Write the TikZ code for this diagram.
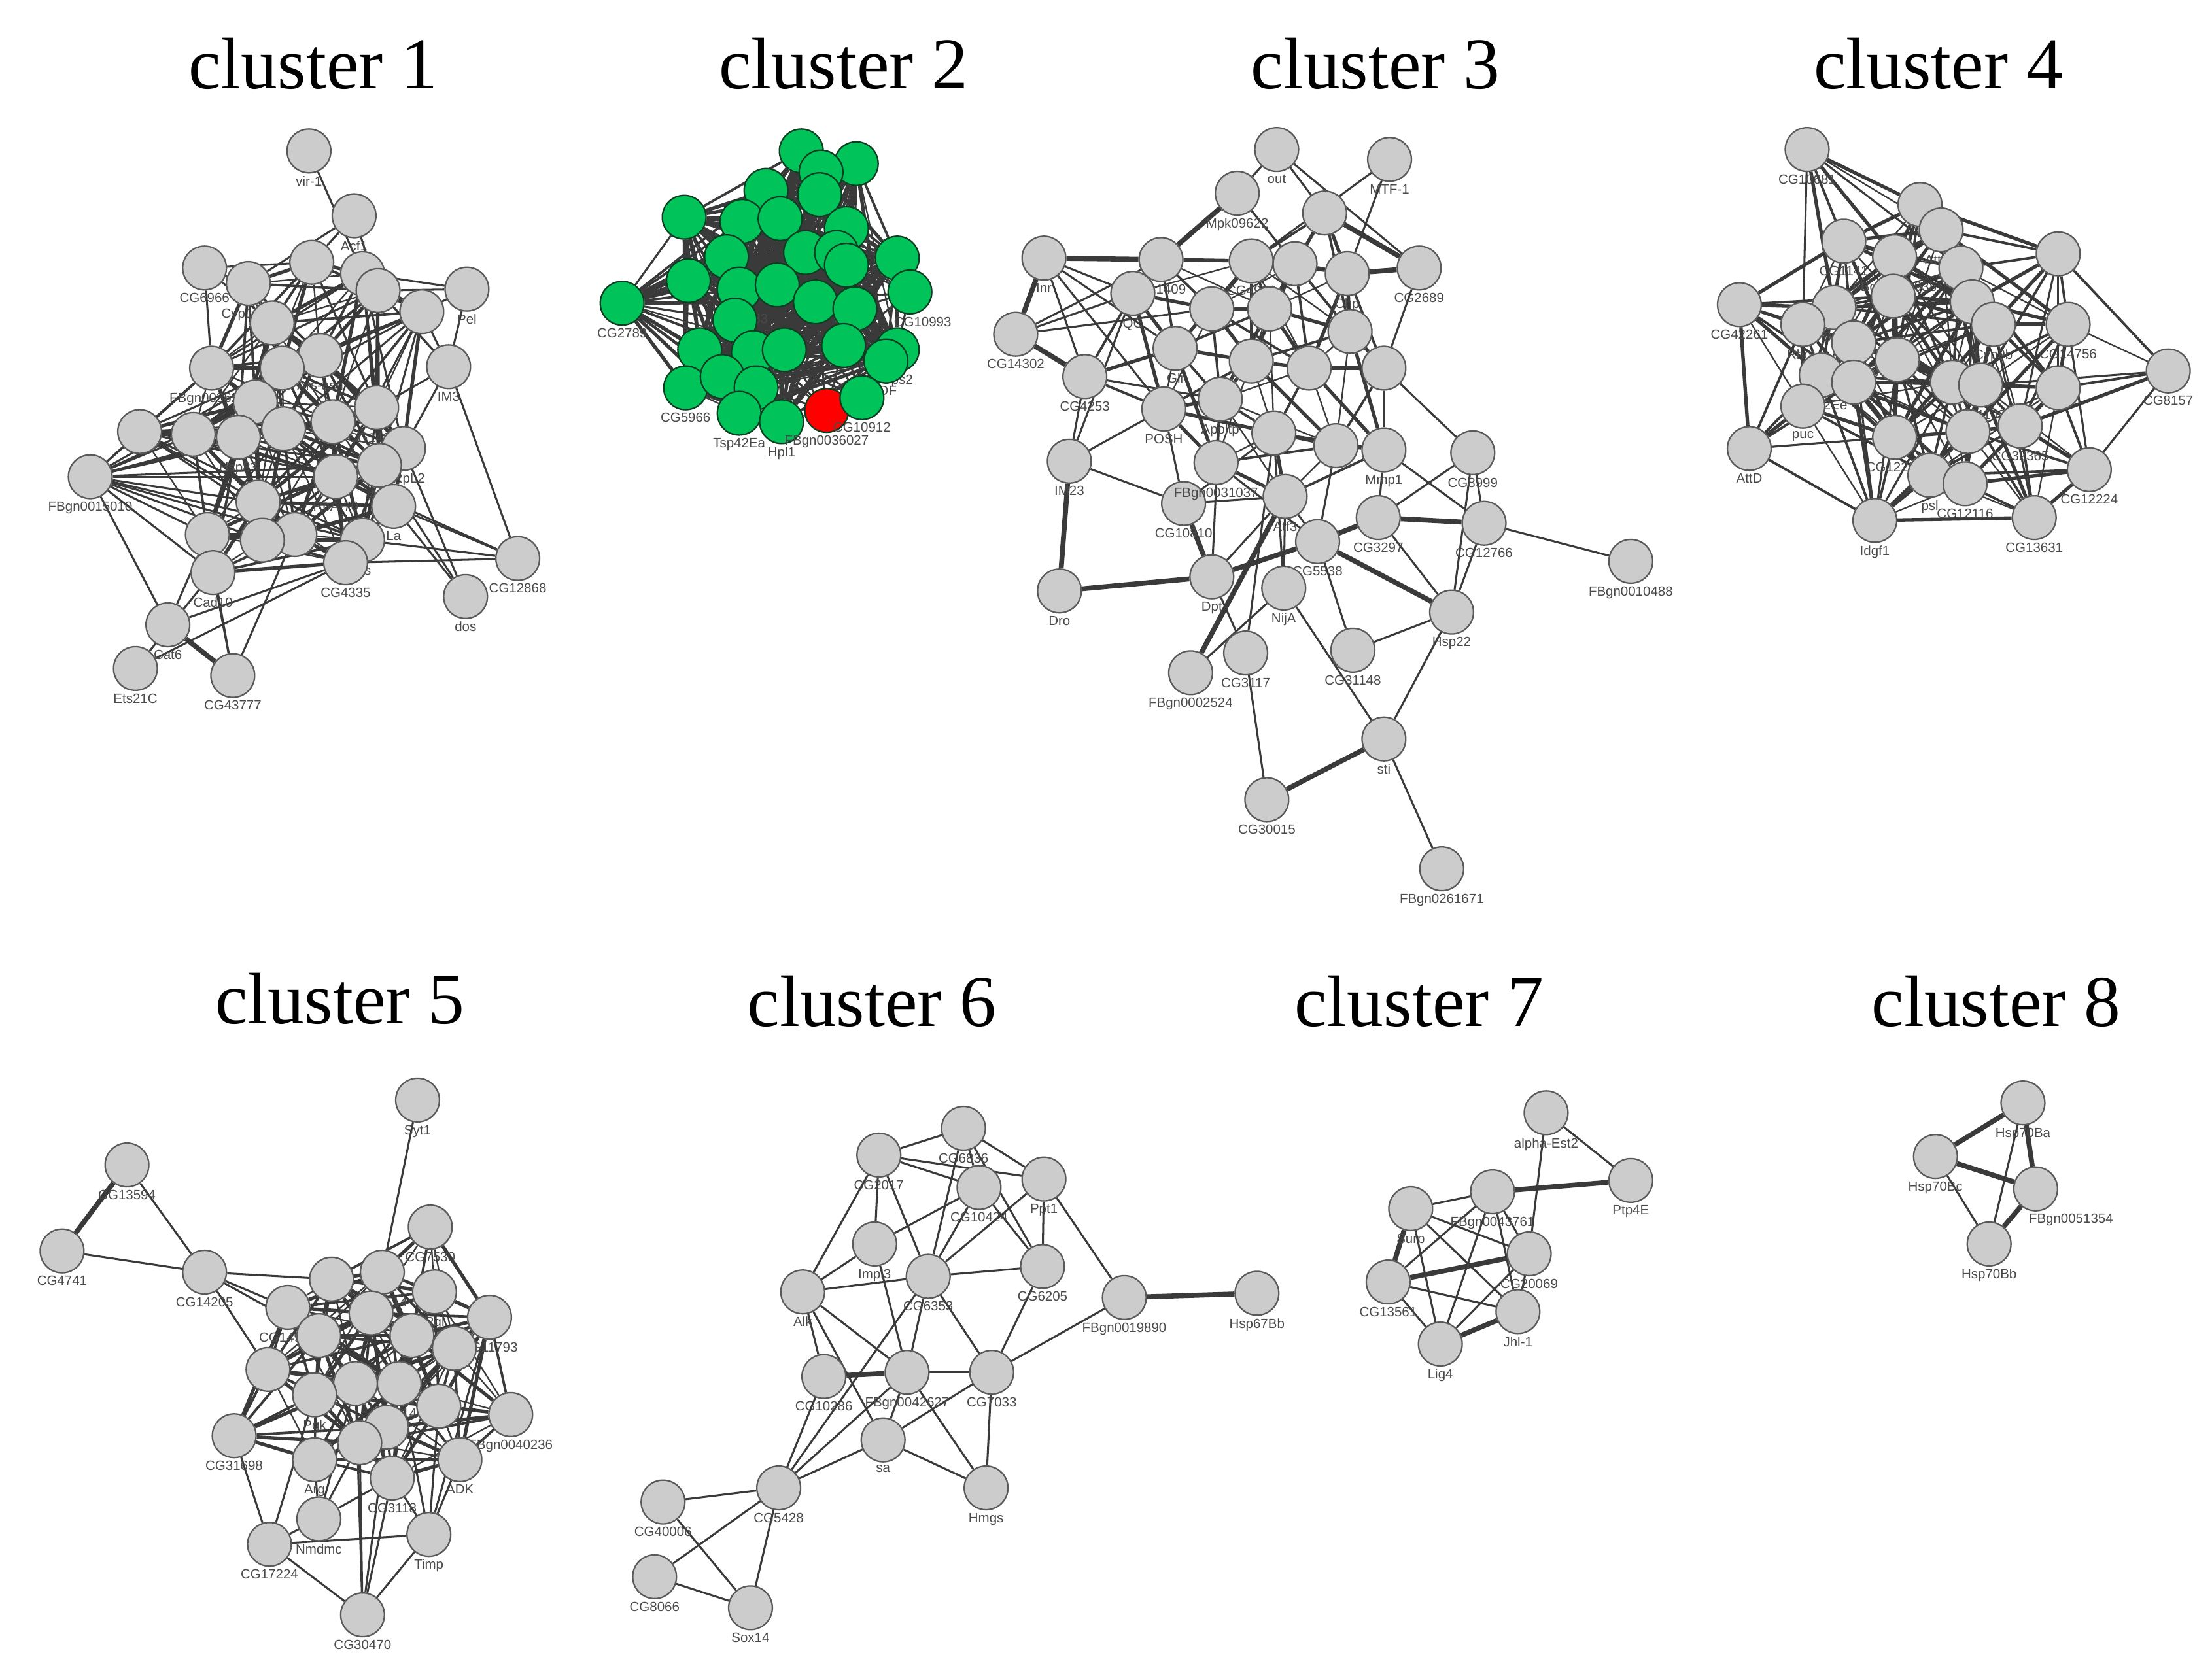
\documentclass[tikz,border=0pt]{standalone}
\usepackage{fontspec}
\setmainfont{Liberation Serif}
\newfontfamily\lblfont{Liberation Sans}
\usepackage{xcolor}
\definecolor{nodegray}{HTML}{CCCCCC}
\definecolor{rimgray}{HTML}{5A5A5A}
\definecolor{netgreen}{HTML}{00C45A}
\definecolor{rimgreen}{HTML}{0D3D22}
\definecolor{netred}{HTML}{FF0000}
\definecolor{labelgray}{HTML}{4A4A4A}
\definecolor{edgegray}{HTML}{3A3A3A}
\usepackage{tikz}
\usetikzlibrary{backgrounds}
\tikzset{
  gn/.style ={circle, fill=nodegray, draw=rimgray, line width=0.3pt, minimum size=0.31cm, inner sep=0pt},
  gg/.style ={gn, fill=netgreen, draw=rimgreen},
  gr/.style ={gn, fill=netred, draw=rimgreen},
  lbl/.style={font=\lblfont\fontsize{2.7}{3}\selectfont, text=labelgray, inner sep=0.3pt},
  ttl/.style={font=\fontsize{14.7}{17}\selectfont, inner sep=0pt},
  ed/.style ={draw=edgegray, line width=0.4pt},
  edk/.style={draw=edgegray, line width=1pt},
}
% place a list of genes: name/x/y/label
\newcommand{\genes}[2]{\foreach \nm/\px/\py/\lab in #2 {\node[#1, label=below:{\lab}] (\nm) at (\px,\py) {};}}
% join every pair closer than sqrt(#2)*100
\newcommand{\linknear}[2]{%
  \foreach \p/\ax/\ay/\at [count=\ii] in #1 {%
    \foreach \q/\bx/\by/\bt [count=\jj] in #1 {%
      \ifnum\jj>\ii
        \pgfmathtruncatemacro{\near}{((\ax-\bx)/100)^2+((\ay-\by)/100)^2<#2}%
        \ifnum\near=1
          \pgfmathsetmacro{\lw}{0.3+0.2*mod(\ii+2*\jj,3)}%
          \draw[ed, line width=\lw pt] (\p) -- (\q);
        \fi
      \fi}}}
\newcommand{\links}[2]{\foreach \p/\q in {#2} {\draw[#1] (\p) -- (\q);}}

% cluster 1
\newcommand{\clAcore}{a1/221/186/{}, a2/257/194/{}, a3/268/206/{}, a4/299/221/{}, a25/176/201/{Cyp18a1},
  a5/193/229/{}, a6/227/252/{Ars-asn}, a7/200/261/{}, a8/150/261/{FBgn0036262}, a9/181/285/{},
  a26/99/306/{}, a10/137/308/{}, a11/169/310/{Hsp83}, a12/201/304/{}, a13/236/299/{},
  a14/267/289/{CG14260}, a15/286/318/{mRpL2}, a16/269/330/{Apr}, a17/238/338/{RpA-70},
  a18/183/356/{F}, a19/279/359/{La}, a20/209/379/{}, a21/147/379/{}, a27/186/383/{},
  a22/257/383/{his}, a23/245/399/{CG4335}, a24/151/406/{Cad10}}
\newcommand{\clAout}{b1/219/107/{vir-1}, b2/251/153/{Acf1}, b3/145/190/{CG6966}, b4/331/205/{Pel},
  b5/318/260/{IM3}, b6/64/338/{FBgn0015010}, b7/367/396/{CG12868}, b8/330/423/{dos},
  b9/119/443/{Cat6}, b10/96/474/{Ets21C}, b11/165/479/{CG43777}}
% cluster 2
\newcommand{\clB}{g1/568/107/{}, g2/607/116/{}, g3/582/122/{}, g5/543/135/{}, g4/581/138/{},
  g6/485/154/{}, g7/526/157/{}, g8/553/155/{}, g9/600/162/{}, g11/571/179/{}, g12/593/179/{},
  g13/600/188/{}, g14/636/183/{}, g10/515/182/{d r}, g16/441/215/{CG2789}, g17/488/199/{},
  g18/524/205/{CG10283}, g19/551/202/{}, g20/578/214/{}, g21/606/219/{}, g22/521/227/{},
  g23/496/248/{}, g24/534/250/{}, g25/556/248/{}, g26/598/245/{}, g27/636/248/{Ups2},
  g28/628/256/{IDF}, g29/486/275/{CG5966}, g30/512/267/{}, g31/536/275/{},
  g32/524/293/{Tsp42Ea}, g33/554/299/{Hpl1}}
% cluster 3
\newcommand{\clC}{d19/939/151/{}, d1/823/184/{CG1409}, d2/887/185/{CG4926}, d3/918/187/{},
  d4/955/194/{Chp}, d20/803/208/{QC}, d5/859/219/{}, d6/900/219/{}, d7/957/235/{},
  d8/833/247/{Gli}, d9/887/256/{}, d10/928/261/{}, d11/981/261/{}, d21/769/267/{CG4253},
  d12/865/283/{Apoltp}, d13/825/290/{POSH}, d14/903/307/{}, d15/947/316/{}, d16/981/319/{Mmp1},
  d17/862/328/{FBgn0031037}, d18/911/352/{Atf3}}
\newcommand{\clCout}{e1/905/106/{out}, e2/985/113/{MTF-1}, e3/877/137/{Mpk09622}, e4/740/183/{Inr},
  e5/1006/190/{CG2689}, e6/720/237/{CG14302}, e7/1044/321/{CG8999}, e8/758/327/{IM23},
  e9/839/357/{CG10810}, e10/977/367/{CG3297}, e11/1052/371/{CG12766}, e12/934/384/{CG5538},
  e13/1156/398/{FBgn0010488}, e14/751/419/{Dro}, e15/859/409/{Dpt}, e16/910/417/{NijA},
  e17/1029/434/{Hsp22}, e18/844/477/{FBgn0002524}, e19/883/463/{CG3117}, e20/959/461/{CG31148},
  e21/981/524/{sti}, e22/898/567/{CG30015}, e23/1022/616/{FBgn0261671}}
% cluster 4
\newcommand{\clD}{f1/1281/106/{CG10681}, f2/1361/145/{}, f3/1307/171/{CG1141}, f4/1376/163/{AttB1},
  f5/1343/182/{FBgn0002938}, f6/1459/180/{}, f7/1233/216/{CG42261}, f8/1390/190/{},
  f9/1342/210/{}, f10/1398/214/{}, f11/1300/218/{FBgn0260442}, f12/1278/230/{RhoL},
  f13/1413/230/{Cyp9b}, f14/1466/230/{CG14756}, f15/1314/243/{CG4203}, f16/1345/255/{},
  f18/1291/266/{Tsp42Ee}, f19/1314/271/{}, f20/1384/271/{}, f21/1404/273/{CG4103},
  f22/1459/275/{}, f23/1278/288/{puc}, f24/1343/310/{CG12200}, f25/1395/306/{},
  f26/1432/302/{CG32365}, f27/1240/318/{AttD}, f28/1368/337/{psl}, f29/1393/343/{CG12116},
  f30/1481/333/{CG12224}, f31/1442/367/{CG13631}, f32/1329/369/{Idgf1}, f17/1537/263/{CG8157}}
% cluster 5
\newcommand{\clE}{h1/305/870/{CG7530}, h3/271/902/{CG1514}, h2/235/907/{}, h4/308/916/{Rgl},
  h5/347/934/{CG11793}, h6/204/927/{CG14981}, h7/263/931/{}, h8/226/947/{}, h9/292/947/{},
  h10/322/956/{}, h11/190/971/{}, h13/252/981/{}, h14/283/981/{CG14}, h12/223/989/{Pgk},
  h15/311/997/{}, h21/362/1003/{FBgn0040236}, h17/274/1012/{}, h16/255/1023/{},
  h22/166/1018/{CG31698}, h19/223/1035/{Arg}, h20/326/1035/{ADK}, h18/278/1048/{CG3118}}
\newcommand{\clEout}{i1/296/780/{Syt1}, i2/90/826/{CG13594}, i3/44/887/{CG4741}, i4/145/902/{CG14205},
  i5/226/1077/{Nmdmc}, i6/191/1095/{CG17224}, i7/304/1088/{Timp}, i8/257/1145/{CG30470}}
% cluster 6
\newcommand{\clF}{k1/683/800/{CG6836}, k2/623/819/{CG2017}, k3/740/836/{Ppt1}, k4/694/842/{CG10424},
  k5/620/882/{Impl3}, k6/739/898/{CG6205}, k7/569/916/{Alk}, k8/658/905/{CG6353},
  k9/797/920/{FBgn0019890}, k10/891/917/{Hsp67Bb}, k11/584/976/{CG10286}, k12/643/973/{FBgn0042627},
  k13/703/973/{CG7033}, k14/626/1021/{sa}, k15/699/1055/{Hmgs}, k16/552/1055/{CG5428},
  k17/470/1065/{CG40006}, k18/464/1118/{CG8066}, k19/532/1140/{Sox14}}
% cluster 7
\newcommand{\clG}{m1/1096/789/{alpha-Est2}, m2/1156/837/{Ptp4E}, m3/1058/845/{FBgn0043761},
  m4/1000/857/{Surp}, m5/1084/889/{CG20069}, m6/984/909/{CG13561}, m7/1076/930/{Jhl-1},
  m8/1021/953/{Lig4}}

\begin{document}
\begin{tikzpicture}[x=0.01cm, y=-0.01cm, every label/.style={lbl}, label distance=0pt]
  \useasboundingbox (0,0) rectangle (1568,1184);
  \node[ttl] (t1) at (222,45) {cluster 1};
  \node[ttl] (t2) at (598,45) {cluster 2};
  \node[ttl] (t3) at (975,45) {cluster 3};
  \node[ttl] (t4) at (1374,45) {cluster 4};
  \node[ttl] (t5) at (241,708) {cluster 5};
  \node[ttl] (t6) at (618,710) {cluster 6};
  \node[ttl] (t7) at (1006,710) {cluster 7};
  \node[ttl] (t8) at (1415,710) {cluster 8};

  \genes{gn}{\clAout} \genes{gn}{\clAcore}
  \genes{gg}{\clB}
  \node[gg, label={[xshift=0.09cm]below:CG10993}] (g15) at (645,207) {};
  \node[gr, label=below:FBgn0036027] (r1) at (586,291) {};
  \node[gg, label=below:CG10912] (g34) at (611,282) {};
  \genes{gn}{\clCout} \genes{gn}{\clC}
  \genes{gn}{\clD}
  \genes{gn}{\clEout} \genes{gn}{\clE}
  \genes{gn}{\clF}
  \genes{gn}{\clG}
  \node[gn, label=below:Hsp70Ba] (n1) at (1434,782) {};
  \node[gn, label=below:Hsp70Bc] (n2) at (1372,820) {};
  \node[gn, label={[xshift=0.25cm]below:FBgn0051354}] (n3) at (1443,843) {};
  \node[gn, label=below:Hsp70Bb] (n4) at (1410,882) {};

  \begin{scope}[on background layer]
    \fill[white] (0,0) rectangle (1568,1184);
    % cluster 1
    \linknear{\clAcore}{1.2}
    \links{ed}{b1/a2, b2/a1, b2/a25, b2/a3, b3/a1, b3/a25, b3/a8, b3/a5, b4/a3, b4/a4, b4/b5, b4/a2,
      b5/b7, b5/a4, b5/a15, b5/a14, b5/a3, b5/a2, b8/a19, b8/a15, b8/a16, b7/a22, b7/a23, b7/a19, b7/a17,
      b6/a26, b6/a10, b6/a11, b6/a12, b6/a18, b6/a20, b6/a21, b6/a13, b6/a17, b6/a8, b6/a24,
      b6/a16, b6/a22, b6/a27, b6/a9, b6/a7,
      a26/a11, a26/a12, a26/a18, a26/a20, a26/a13, a26/a8, a26/a7, a26/a17, a26/a16, a26/a22,
      b9/a23, b9/a21, b9/b6, b10/a23, b10/a24, b11/a24, b11/a20, b11/a21,
      a8/a2, a8/a1, a8/a3, a10/a4, a12/a4, a4/a17, a2/a16, a2/a15, a3/a16, a4/a16, a1/a14}
    \links{edk}{b9/b11}
    % cluster 2
    \linknear{\clB}{2.5}
    \links{ed}{r1/g33, r1/g31, r1/g26, r1/g28, r1/g25, r1/g24, r1/g20, r1/g22, g34/g26, g34/g28,
      g34/g27, g34/g21, g34/g25, g34/g24, g34/g19, g15/g14, g15/g21, g15/g27, g15/g13, g15/g26,
      g15/g9, g15/g20, g15/g12, g16/g6, g16/g5, g16/g23, g16/g29, g16/g17, g16/g22, g16/g10}
    % cluster 3
    \linknear{\clC}{0.8}
    \links{ed}{e1/e3, e1/e5, e1/d19, e2/d2, e2/d4, e3/d3, e3/d7, d19/d2, d19/d3,
      e4/d20, e4/d21, e4/d13, e4/d8, e6/d20, e6/d1, e6/d5, d20/e8, d21/e8, d21/d12, e8/e9,
      d13/e8, d13/e9, e9/d18, e9/d14, e15/d18, e15/e19, e15/d12, e16/d18, e16/e21, e16/d14,
      e19/e22, e20/e12, e20/e17, e21/e17, e21/e23, e17/e11, e17/e10, e17/e7, e11/e13, e11/d16,
      e11/e7, e7/e10, e7/d11, e5/d11, e10/d16, e12/d15, e12/d18, e12/d17, e19/d14, e18/e16}
    \links{edk}{e3/d1, e4/d1, e4/e6, e6/d21, e8/e14, e9/e15, e14/e15, e15/e12, e18/d18,
      e21/e22, e17/e12, e11/e10, e10/e12, e5/d4, d19/e5}
    % cluster 4
    \linknear{\clD}{1.3}
    \links{ed}{f1/f2, f1/f5, f1/f12, f1/f8, f2/f6, f6/f4, f6/f10, f6/f17, f6/f22, f6/f26, f6/f21,
      f17/f30, f17/f26, f17/f21, f7/f3, f7/f27, f7/f18, f7/f16, f27/f23, f27/f24, f27/f32,
      f32/f18, f32/f16, f32/f20, f32/f15, f32/f19, f31/f21, f31/f13, f30/f14, f30/f29}
    % cluster 5
    \linknear{\clE}{1.2}
    \links{ed}{i2/i4, i3/i4, i4/h6, i4/h8, i4/h11, i4/h2, i1/h3, i6/i5, i6/i7, i6/i8, i6/h22,
      i6/h12, i5/h19, i5/h16, i5/h13, i7/i8, i7/h20, i7/h14, i7/h18, i7/h5, i7/h15, i8/h16,
      i8/h18, i8/h17, i8/h13, i5/h18, h22/h6, h22/h8}
    \links{edk}{i2/i3}
    % cluster 6
    \links{ed}{k1/k4, k1/k3, k1/k8, k1/k6, k2/k1, k2/k4, k2/k3, k2/k5, k2/k7, k2/k8, k4/k5,
      k4/k8, k4/k6, k3/k6, k3/k9, k3/k8, k5/k7, k5/k12, k7/k8, k7/k11, k7/k12, k7/k14, k8/k6,
      k8/k12, k8/k13, k8/k16, k6/k13, k9/k13, k11/k16, k12/k13, k12/k14, k12/k15, k12/k16,
      k13/k14, k13/k15, k14/k15, k14/k16, k16/k17, k16/k18, k16/k19, k17/k19, k18/k19}
    \links{edk}{k9/k10, k11/k12}
    % cluster 7
    \links{ed}{m1/m2, m1/m5, m4/m3, m4/m5, m4/m7, m4/m8, m3/m6, m3/m8, m3/m5, m3/m7, m6/m7,
      m6/m8, m5/m8, m5/m7}
    \links{edk}{m3/m2, m4/m6, m6/m5, m8/m7}
    % cluster 8
    \links{ed}{n1/n4, n2/n4}
    \links{edk}{n1/n2, n1/n3, n2/n3, n3/n4}
  \end{scope}
\end{tikzpicture}
\end{document}
